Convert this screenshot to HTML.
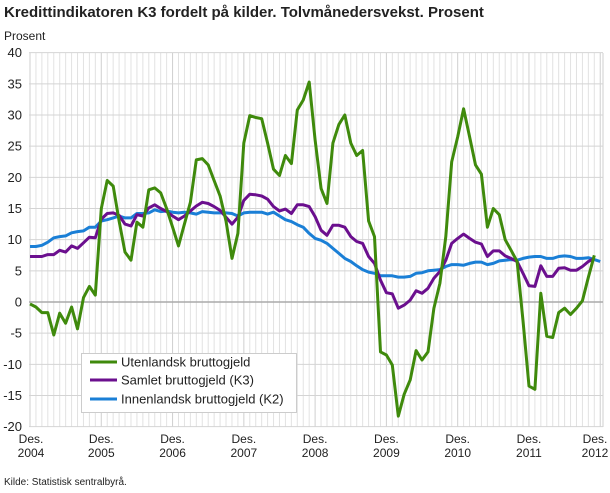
<!DOCTYPE html>
<html><head><meta charset="utf-8"><style>
body{margin:0;background:#fff;font-family:"Liberation Sans",sans-serif;}
</style></head><body>
<svg id="c" width="610" height="488" xmlns="http://www.w3.org/2000/svg" font-family="Liberation Sans, sans-serif"></svg>
<script>
const G=[-0.3,-0.8,-1.7,-1.7,-5.3,-1.8,-3.4,-0.8,-4.3,0.7,2.5,1.1,15,19.5,18.6,13,8,6.7,12.8,12,18,18.3,17.5,15,12,9,12.5,16,22.8,23,22,19.5,17,13,7,11,25.5,29.9,29.6,29.4,25.5,21.3,20.3,23.5,22.2,30.8,32.4,35.3,26,18.2,15.8,25.5,28.5,30,25.5,23.5,24.3,13,10.5,-8,-8.5,-10.1,-18.3,-14.8,-12.5,-7.8,-9.3,-8,-1,3,10.5,22.5,26.5,31,26.5,22,20.5,12,15,14,10,8.3,6.5,-3,-13.5,-14,1.4,-5.5,-5.7,-1.7,-1,-2,-1,0.2,4,7.5];
const P=[7.3,7.3,7.3,7.6,7.6,8.3,8.0,9.0,8.6,9.5,10.4,10.3,13.3,14.2,14.3,13.9,12.5,12.2,14,13.8,15.1,15.6,15,14.5,13.8,13.2,13.8,14.6,15.4,16,15.8,15.3,14.7,13.6,12.5,13.6,16.3,17.3,17.2,17,16.5,15.3,14.6,14.9,14.2,15.6,15.6,15.3,13.7,11.5,10.7,12.3,12.3,12,10.5,9.7,9.4,7.3,6.2,3.5,1.5,1.3,-1,-0.5,0.3,1.8,1.4,2.2,3.8,4.9,6.7,9.4,10.2,10.9,10.2,9.6,9.3,7.3,8.2,8.2,7.4,7,6.5,4.6,2.6,2.5,5.8,4.1,4.1,5.4,5.5,5.1,5.1,5.7,6.5,7.0];
const B=[8.9,8.9,9.1,9.6,10.3,10.5,10.6,11.1,11.3,11.4,12.0,12.0,13.0,13.2,13.5,13.8,13.5,13.5,14.2,14.2,14.3,14.8,14.5,14.6,14.4,14.3,14.4,14.3,14.1,14.5,14.4,14.3,14.3,14.3,14.2,13.8,14.3,14.4,14.4,14.4,14.1,14.4,13.8,13.2,12.9,12.4,12.0,11.0,10.2,9.9,9.4,8.6,7.8,7,6.5,5.8,5.2,4.8,4.6,4.2,4.2,4.2,4,4,4.1,4.6,4.7,5,5.1,5.2,5.7,6,6,5.9,6.2,6.4,6.4,6,6.2,6.6,6.7,6.8,6.7,7,7.2,7.3,7.3,7,7,7.3,7.4,7.3,7,7,7.1,6.8,6.5];
const X=i=>30+i*5.94, Y=v=>302-v*6.233;
let s='';
s+='<text x="4" y="17" font-size="15" font-weight="bold" fill="#222">Kredittindikatoren K3 fordelt på kilder. Tolvmånedersvekst. Prosent</text>';
s+='<text x="4" y="40" font-size="12" fill="#222">Prosent</text>';
for(let i=0;i<=96;i++){let x=X(i);s+=`<line x1="${x}" y1="53" x2="${x}" y2="427" stroke="${i%12==0?'#cfcfcf':'#e2e2e2'}" stroke-width="1"/>`;}
s+=`<line x1="603" y1="53" x2="603" y2="427" stroke="#cfcfcf"/>`;
for(let v=-20;v<=40;v+=5){let y=Y(v);s+=`<line x1="29" y1="${y}" x2="603" y2="${y}" stroke="${v==0?'#aaa':'#d4d4d4'}" stroke-width="${v==0?1.5:1}"/>`;
s+=`<text x="22" y="${y+4.5}" font-size="13" text-anchor="end" fill="#222">${v}</text>`;}
const yrs=[2004,2005,2006,2007,2008,2009,2010,2011,2012];
yrs.forEach((yr,k)=>{let x=X(k*12);if(k==8)x=595;if(k==0)x=31;s+=`<text x="${x}" y="443" font-size="12" text-anchor="middle" fill="#222">Des.</text><text x="${x}" y="457" font-size="12" text-anchor="middle" fill="#222">${yr}</text>`;});
const pl=(d,c)=>`<polyline fill="none" stroke="${c}" stroke-width="3" stroke-linejoin="round" points="${d.map((v,i)=>X(i).toFixed(1)+','+Y(v).toFixed(1)).join(' ')}"/>`;
s+=pl(B,'#1a7fd6')+pl(P,'#6b0f8e')+pl(G,'#3f8a0c');
s+='<rect x="81.5" y="353.5" width="215" height="59" fill="#fff" stroke="#ccc"/>';
[['Utenlandsk bruttogjeld','#3f8a0c',362],['Samlet bruttogjeld (K3)','#6b0f8e',380],['Innenlandsk bruttogjeld (K2)','#1a7fd6',399]].forEach(([t,c,y])=>{
s+=`<line x1="90" y1="${y}" x2="117" y2="${y}" stroke="${c}" stroke-width="3"/><text x="121" y="${y+4.5}" font-size="13" fill="#222">${t}</text>`;});
s+='<text x="4" y="485" font-size="10" fill="#222">Kilde: Statistisk sentralbyrå.</text>';
document.getElementById('c').innerHTML=s;
</script>
</body></html>
